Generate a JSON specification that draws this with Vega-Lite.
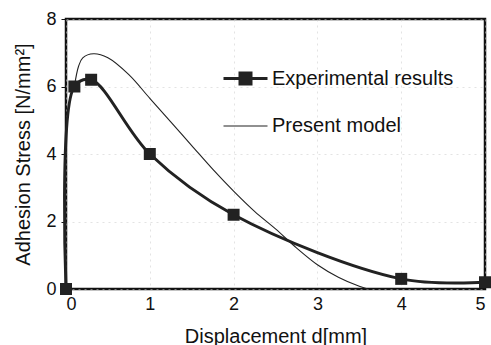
{
  "$schema": "https://vega.github.io/schema/vega-lite/v6.json",
  "width": 419,
  "height": 270,
  "autosize": {"type": "none"},
  "padding": {"left": 66, "top": 19, "right": 6, "bottom": 56},
  "background": "white",
  "config": {
    "view": {"stroke": "#111", "strokeWidth": 2.5},
    "font": "Liberation Sans",
    "axis": {
      "domain": false,
      "labelFont": "Liberation Sans",
      "titleFont": "Liberation Sans",
      "labelFontSize": 18,
      "titleFontSize": 20,
      "titleFontWeight": "normal",
      "labelColor": "#111",
      "titleColor": "#111",
      "tickColor": "#111",
      "gridColor": "#cccccc",
      "gridDash": [2, 4],
      "gridOpacity": 0.55
    }
  },
  "data": {
    "values": [
      {"series": "Experimental results", "x": 0, "y": 0},
      {"series": "Experimental results", "x": 0.1, "y": 6.0},
      {"series": "Experimental results", "x": 0.3, "y": 6.2},
      {"series": "Experimental results", "x": 1, "y": 4.0},
      {"series": "Experimental results", "x": 2, "y": 2.2},
      {"series": "Experimental results", "x": 4, "y": 0.3},
      {"series": "Experimental results", "x": 5, "y": 0.2},
      {"series": "Present model", "x": 0.1, "y": 6.0},
      {"series": "Present model", "x": 0.15, "y": 6.6},
      {"series": "Present model", "x": 0.2, "y": 6.85},
      {"series": "Present model", "x": 0.33, "y": 6.97},
      {"series": "Present model", "x": 0.5, "y": 6.85},
      {"series": "Present model", "x": 0.75, "y": 6.35},
      {"series": "Present model", "x": 1.0, "y": 5.65},
      {"series": "Present model", "x": 1.25, "y": 4.95},
      {"series": "Present model", "x": 1.5, "y": 4.25},
      {"series": "Present model", "x": 1.75, "y": 3.55},
      {"series": "Present model", "x": 2.0, "y": 2.9},
      {"series": "Present model", "x": 2.25, "y": 2.3},
      {"series": "Present model", "x": 2.5, "y": 1.78},
      {"series": "Present model", "x": 2.75, "y": 1.22},
      {"series": "Present model", "x": 3.0, "y": 0.72},
      {"series": "Present model", "x": 3.25, "y": 0.35},
      {"series": "Present model", "x": 3.5, "y": 0.08},
      {"series": "Present model", "x": 3.6, "y": 0.0}
    ]
  },
  "encoding": {
    "x": {
      "field": "x", "type": "quantitative",
      "scale": {"domain": [0, 5], "nice": false},
      "axis": {"values": [0, 1, 2, 3, 4, 5], "title": "Displacement d[mm]", "ticks": false, "labelPadding": 6, "titlePadding": 13, "grid": true}
    },
    "y": {
      "field": "y", "type": "quantitative",
      "scale": {"domain": [0, 8], "nice": false},
      "axis": {"values": [0, 2, 4, 6, 8], "title": "Adhesion Stress [N/mm²]", "tickSize": 5, "labelPadding": 5, "titlePadding": 12, "grid": true}
    }
  },
  "layer": [
    {
      "mark": {"type": "line", "interpolate": "catmull-rom", "color": "#222"},
      "encoding": {
        "detail": {"field": "series"},
        "strokeWidth": {
          "field": "series", "type": "nominal",
          "scale": {"domain": ["Experimental results", "Present model"], "range": [3, 1.1]},
          "legend": {
            "orient": "none",
            "legendX": 156,
            "legendY": 36,
            "title": null,
            "symbolSize": 1936,
            "symbolFillColor": "#222",
            "symbolStrokeColor": "#222",
            "labelFontSize": 20,
            "labelFont": "Liberation Sans",
            "labelColor": "#111",
            "labelOffset": 3,
            "labelLimit": 400,
            "rowPadding": 13,
            "padding": 0,
            "encode": {
              "symbols": {
                "update": {
                  "shape": {"signal": "datum.value === 'Experimental results' ? 'M-1,0L1,0M-0.25,-0.25L0.25,-0.25L0.25,0.25L-0.25,0.25Z' : 'M-1,0L1,0'"},
                  "fill": {"value": "#222"},
                  "fillOpacity": {"value": 1},
                  "stroke": {"value": "#222"},
                  "strokeWidth": {"signal": "datum.value === 'Experimental results' ? 3 : 1.1"},
                  "opacity": {"value": 1}
                }
              }
            }
          }
        }
      }
    },
    {
      "transform": [{"filter": "datum.series === 'Experimental results'"}],
      "mark": {"type": "square", "size": 144, "filled": true, "color": "#222", "opacity": 1}
    }
  ]
}
